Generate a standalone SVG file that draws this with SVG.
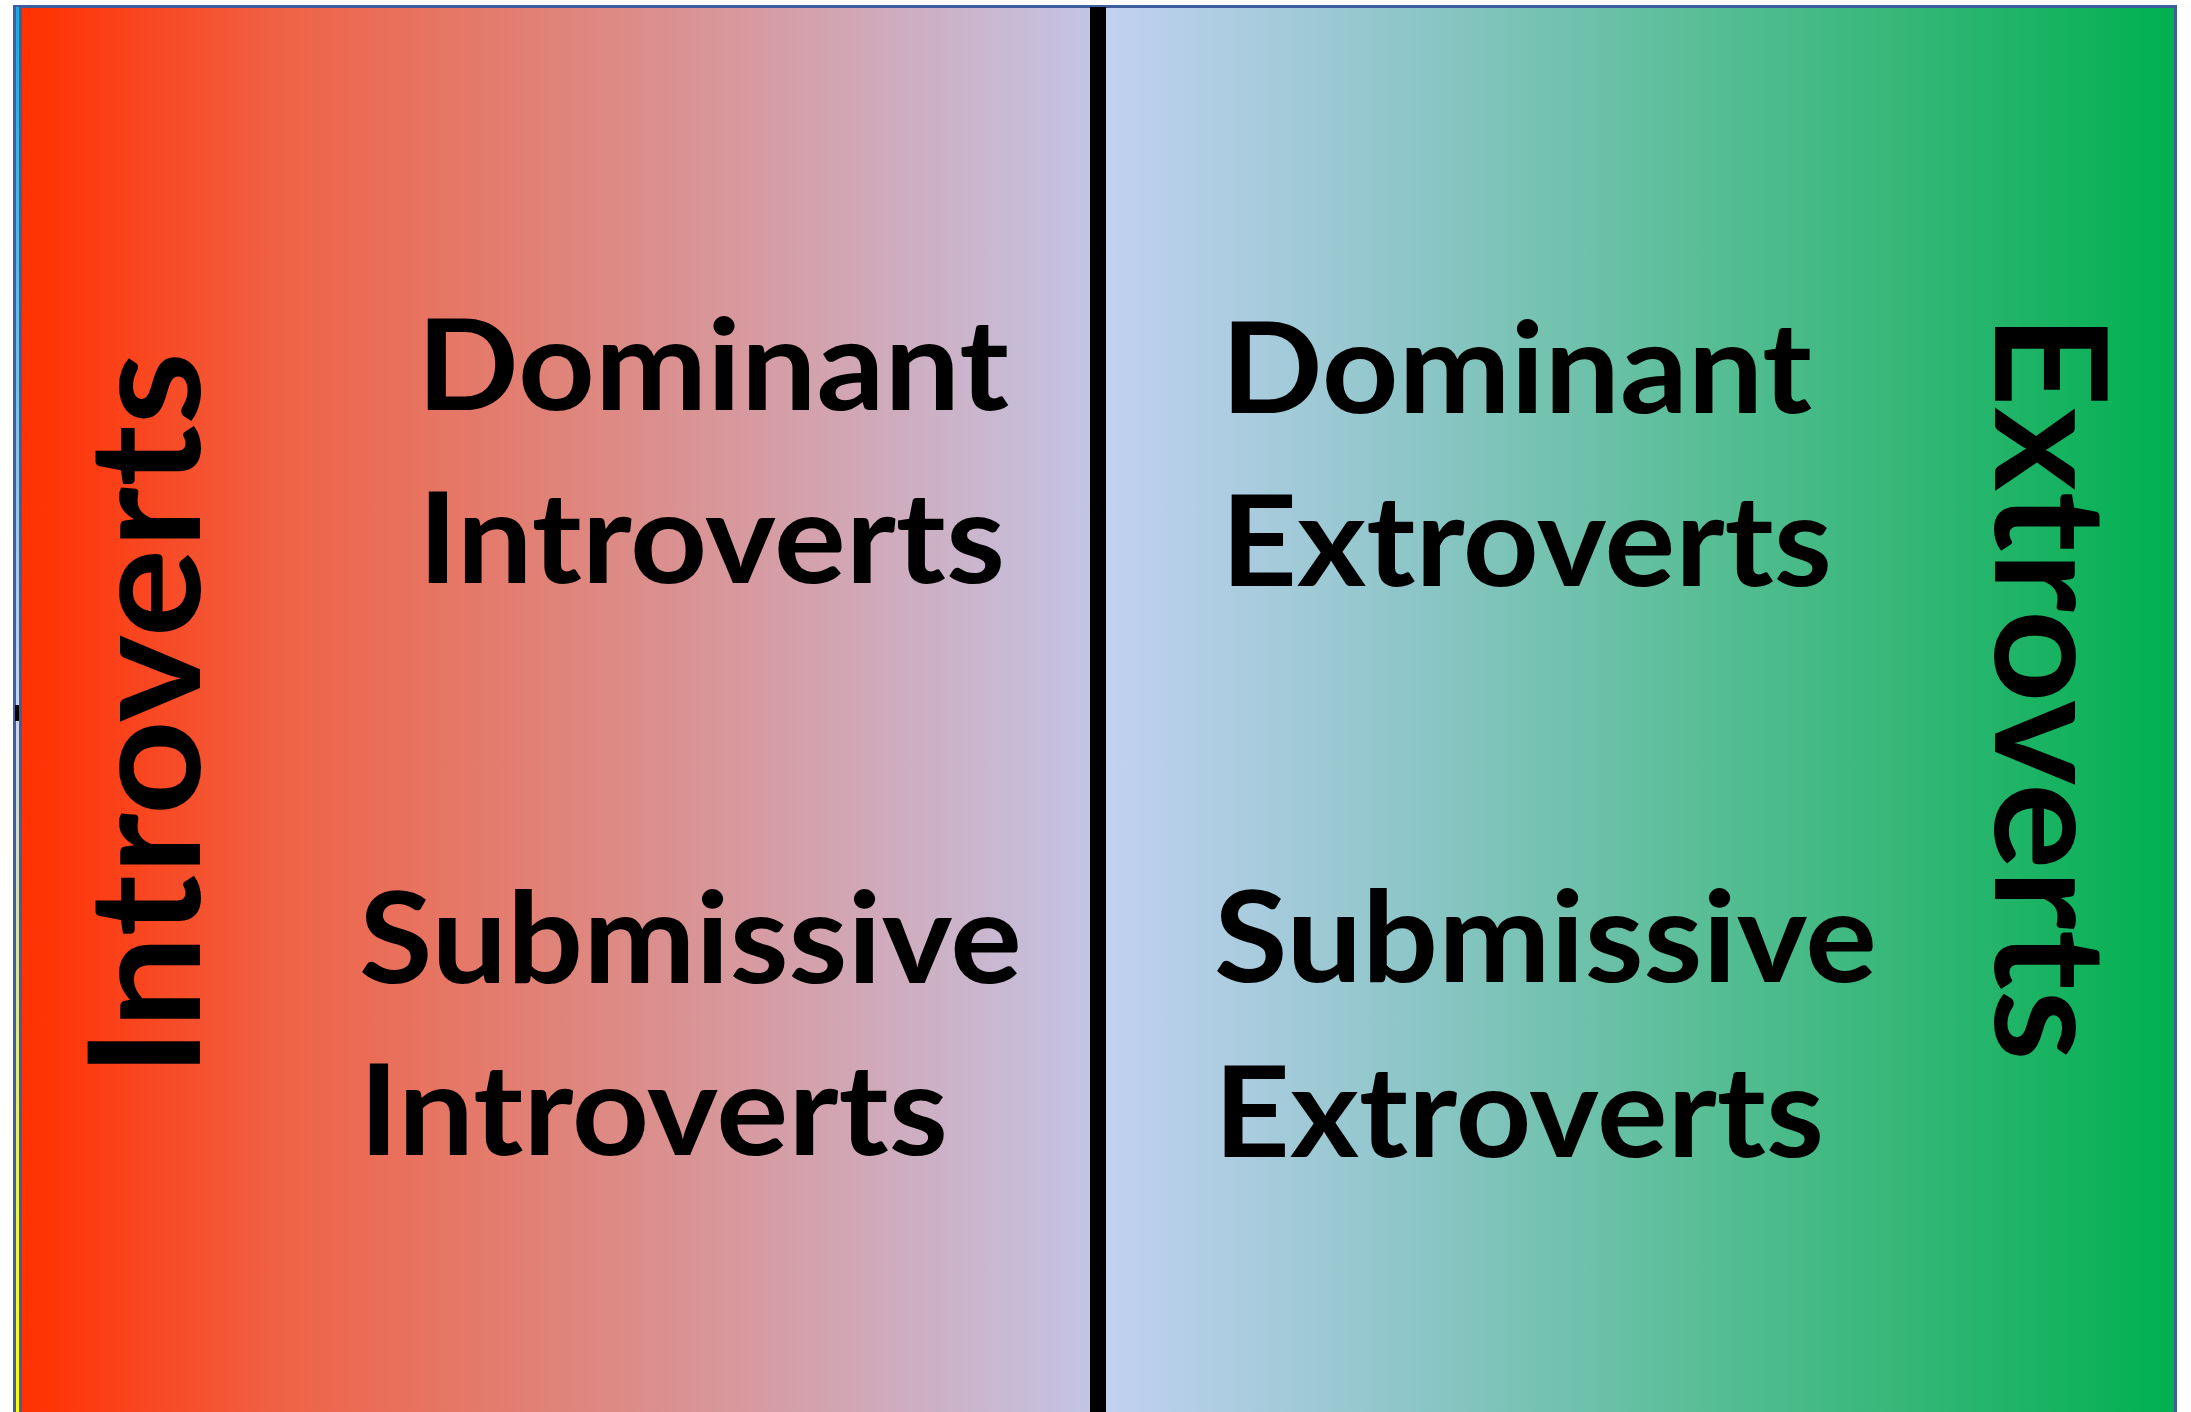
<svg xmlns="http://www.w3.org/2000/svg" width="2191" height="1412" viewBox="0 0 2191 1412">
<defs>
<linearGradient id="gl" x1="0" y1="0" x2="1" y2="0">
<stop offset="0" stop-color="#FF3300"/>
<stop offset="0.03" stop-color="#FF3508"/>
<stop offset="0.25" stop-color="#EF6347"/>
<stop offset="0.5" stop-color="#E08379"/>
<stop offset="0.75" stop-color="#D3A3AF"/>
<stop offset="1" stop-color="#C3C4E4"/>
</linearGradient>
<linearGradient id="gr" x1="0" y1="0" x2="1" y2="0">
<stop offset="0" stop-color="#C2D1F1"/>
<stop offset="0.28" stop-color="#8EC6C9"/>
<stop offset="0.55" stop-color="#5ABE98"/>
<stop offset="0.8" stop-color="#2AB56F"/>
<stop offset="1" stop-color="#00B050"/>
</linearGradient>
<linearGradient id="gs" x1="0" y1="0" x2="0" y2="1">
<stop offset="0" stop-color="#1CA8E0"/>
<stop offset="0.5" stop-color="#C8D4F0"/>
<stop offset="1" stop-color="#FFFF00"/>
</linearGradient>
<style>
.t{font-family:Lato,"Open Sans",sans-serif;font-weight:700;fill:#000;}
.m{font-size:126px;}
.v{font-size:156px;}
</style>
</defs>
<rect x="0" y="0" width="2191" height="1412" fill="#FFFFFF"/>
<g id="frame">
<rect x="13" y="5" width="2164" height="1420" fill="#3F5E9E"/>
<rect x="16" y="7" width="3" height="1420" fill="url(#gs)"/>
<rect x="22" y="8" width="1068" height="1420" fill="url(#gl)"/>
<rect x="1106" y="8" width="1068" height="1420" fill="url(#gr)"/>
<rect x="1090" y="7" width="16" height="1420" fill="#000"/>
<rect x="15" y="705" width="4" height="16" fill="#000"/>
</g>
<g id="introverts-label">
<text class="t v" transform="translate(200,1077) rotate(-90)" x="0" y="0" textLength="725" lengthAdjust="spacingAndGlyphs">Introverts</text>
</g>
<g id="extroverts-label">
<text class="t v" transform="translate(1995,314) rotate(90)" x="0" y="0" textLength="747" lengthAdjust="spacingAndGlyphs">Extroverts</text>
</g>
<g id="dominant-introverts">
<text class="t m" x="417" y="410" textLength="592" lengthAdjust="spacingAndGlyphs">Dominant</text>
<text class="t m" x="418" y="583" textLength="587" lengthAdjust="spacingAndGlyphs">Introverts</text>
</g>
<g id="submissive-introverts">
<text class="t m" x="359" y="983" textLength="663" lengthAdjust="spacingAndGlyphs">Submissive</text>
<text class="t m" x="359" y="1155" textLength="589" lengthAdjust="spacingAndGlyphs">Introverts</text>
</g>
<g id="dominant-extroverts">
<text class="t m" x="1221" y="413" textLength="591" lengthAdjust="spacingAndGlyphs">Dominant</text>
<text class="t m" x="1221" y="586" textLength="611" lengthAdjust="spacingAndGlyphs">Extroverts</text>
</g>
<g id="submissive-extroverts">
<text class="t m" x="1214" y="982" textLength="663" lengthAdjust="spacingAndGlyphs">Submissive</text>
<text class="t m" x="1214" y="1157" textLength="610" lengthAdjust="spacingAndGlyphs">Extroverts</text>
</g>
<g id="connectors"/>
</svg>
